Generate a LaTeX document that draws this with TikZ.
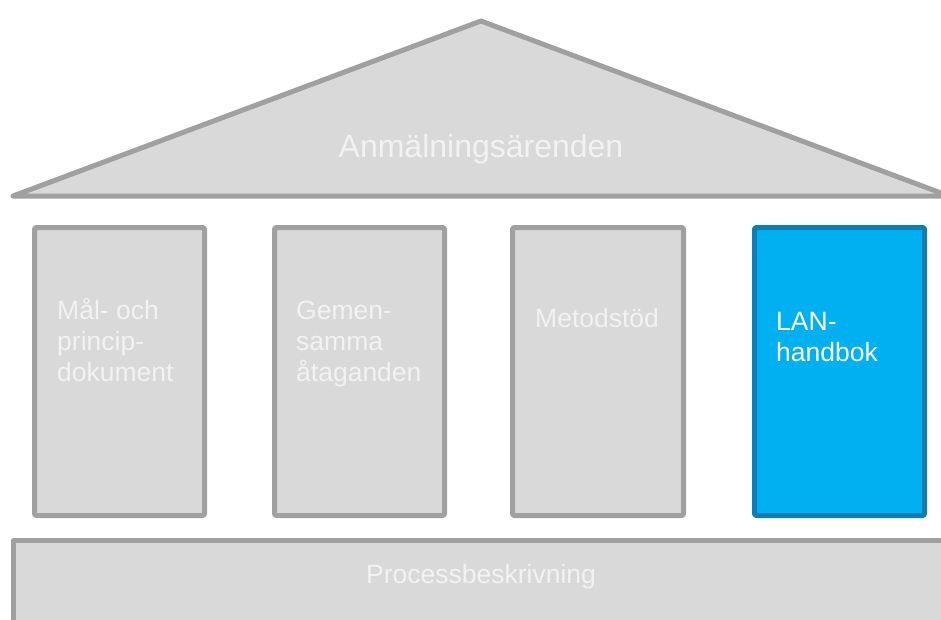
\documentclass[tikz,border=0pt]{standalone}
\usepackage{fontspec}
\setmainfont{Liberation Sans}
\definecolor{pillargray}{HTML}{D9D9D9}
\definecolor{edgegray}{HTML}{A0A0A0}
\definecolor{labelwhite}{HTML}{F2F2F2}
\definecolor{lanblue}{HTML}{00B0F0}
\definecolor{lanedge}{HTML}{0E7DB1}
\tikzset{
  part/.style={draw=edgegray, fill=pillargray, line width=5pt, line join=round},
  pillar/.style={part, rectangle, rounded corners=2pt, minimum width=170pt,
    minimum height=288pt, inner sep=0pt},
  bluepillar/.style={pillar, draw=lanedge, fill=lanblue},
  % base anchor of a multi-line node sits on its last line
  pillartext/.style={anchor=base west, align=left, inner sep=0pt,
    text=labelwhite, font=\fontsize{26.5}{31}\selectfont},
  bigtext/.style={inner sep=0pt, text=labelwhite, anchor=base,
    font=\fontsize{32}{36}\selectfont},
  basetext/.style={inner sep=0pt, text=labelwhite, anchor=base,
    font=\fontsize{26.5}{31}\selectfont}
}
\begin{document}
\begin{tikzpicture}[x=1pt, y=-1pt]
  \useasboundingbox (0,0) rectangle (941,619);
  \clip (0,0) rectangle (941,619);

  % roof
  \draw[part] (13,196) -- (481,21) -- (949,196) -- cycle;
  \node[bigtext] (roof) at (481,157) {Anmälningsärenden};

  % pillars
  \node[pillar] (p1) at (119.5,371.5) {};
  \node[pillar] (p2) at (359.5,371.5) {};
  \node[pillar, minimum width=171pt] (p3) at (598,371.5) {};
  \node[bluepillar] (p4) at (839.5,371.5) {};

  \node[pillartext] (t1) at (57,381) {Mål- och\\princip-\\dokument};
  \node[pillartext] (t2) at (296,381) {Gemen-\\samma\\åtaganden};
  \node[pillartext] (t3) at (535,327) {Metodstöd};
  \node[pillartext, text=white] (t4) at (776,361) {LAN-\\handbok};

  % foundation
  \draw[part] (13.5,660) -- (13.5,540.5) -- (960,540.5) -- (960,660) -- cycle;
  \node[basetext] (base) at (481,583) {Processbeskrivning};
\end{tikzpicture}
\end{document}
